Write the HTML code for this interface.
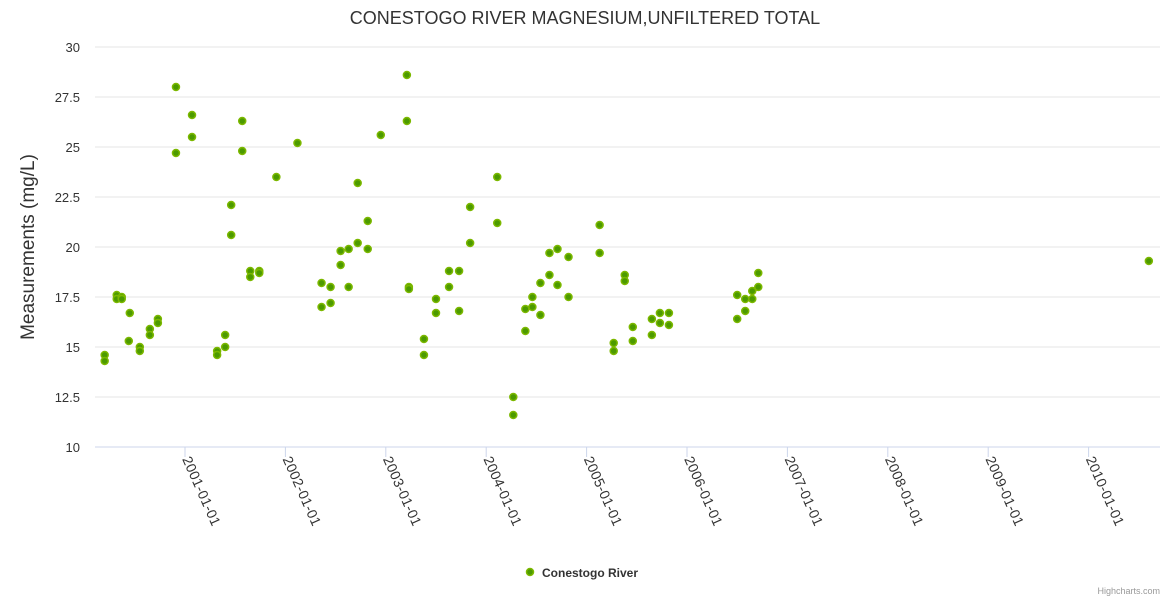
<!DOCTYPE html>
<html><head><meta charset="utf-8"><style>
body{margin:0;background:#fff;font-family:"Liberation Sans",sans-serif}
svg text{font-family:"Liberation Sans",sans-serif}
</style></head><body>
<svg width="1170" height="600">
<text x="585" y="24" text-anchor="middle" font-size="18" fill="#333">CONESTOGO RIVER MAGNESIUM,UNFILTERED TOTAL</text>
<text transform="translate(34,247) rotate(-90)" text-anchor="middle" font-size="19" fill="#333">Measurements (mg/L)</text>
<g id="grid"></g><g id="xaxis"></g><g id="pts"></g>
<g>
<circle cx="530" cy="572" r="3.5" fill="#4c9a00" stroke="#7cb800" stroke-width="1.5"/>
<text x="542" y="577" font-size="12" font-weight="bold" fill="#333">Conestogo River</text></g>
<text x="1160" y="594" text-anchor="end" font-size="9" fill="#999">Highcharts.com</text>
</svg>
<script>
const yTicks=[10,12.5,15,17.5,20,22.5,25,27.5,30];
const xTicks=[2001,2002,2003,2004,2005,2006,2007,2008,2009,2010];
const dates=[2000.20,2000.20,2000.32,2000.32,2000.37,2000.37,2000.45,2000.44,2000.55,2000.55,2000.65,2000.65,2000.73,2000.73,2000.91,2000.91,2001.07,2001.07,2001.32,2001.32,2001.40,2001.40,2001.46,2001.46,2001.57,2001.57,2001.65,2001.65,2001.74,2001.74,2001.91,2002.12,2002.36,2002.36,2002.45,2002.45,2002.55,2002.55,2002.63,2002.63,2002.72,2002.72,2002.82,2002.82,2002.95,2003.21,2003.21,2003.23,2003.23,2003.38,2003.38,2003.50,2003.50,2003.63,2003.63,2003.73,2003.73,2003.84,2003.84,2004.11,2004.11,2004.27,2004.27,2004.39,2004.39,2004.46,2004.46,2004.54,2004.54,2004.63,2004.63,2004.71,2004.71,2004.82,2004.82,2005.13,2005.13,2005.27,2005.27,2005.38,2005.38,2005.46,2005.46,2005.65,2005.65,2005.73,2005.73,2005.82,2005.82,2006.50,2006.50,2006.58,2006.58,2006.65,2006.65,2006.71,2006.71,2010.60];
const values=[14.6,14.3,17.6,17.4,17.5,17.4,16.7,15.3,15.0,14.8,15.9,15.6,16.4,16.2,28.0,24.7,26.6,25.5,14.8,14.6,15.6,15.0,22.1,20.6,26.3,24.8,18.8,18.5,18.8,18.7,23.5,25.2,18.2,17.0,18.0,17.2,19.8,19.1,19.9,18.0,23.2,20.2,21.3,19.9,25.6,28.6,26.3,18.0,17.9,15.4,14.6,17.4,16.7,18.8,18.0,18.8,16.8,22.0,20.2,23.5,21.2,12.5,11.6,16.9,15.8,17.5,17.0,18.2,16.6,19.7,18.6,19.9,18.1,19.5,17.5,21.1,19.7,15.2,14.8,18.6,18.3,16.0,15.3,16.4,15.6,16.7,16.2,16.7,16.1,17.6,16.4,17.4,16.8,17.8,17.4,18.7,18.0,19.3];
const NS='http://www.w3.org/2000/svg';
const X=d=>185+(d-2001)*100.4;
const Y=v=>447-(v-10)*20;
function mk(t,a,p){const e=document.createElementNS(NS,t);for(const k in a)e.setAttribute(k,a[k]);document.getElementById(p).appendChild(e);return e;}
yTicks.forEach(v=>{
 const l=mk('line',{x1:95,x2:1160,y1:Y(v),y2:Y(v),stroke:v===10?'#ccd6eb':'#e6e6e6'},'grid');
 
 
 const t=mk('text',{x:80,y:Y(v)+5,'text-anchor':'end','font-size':13,fill:'#333'},'grid');
 t.textContent=v;
 
 
});
xTicks.forEach(d=>{
 const x=X(d);
 const l=mk('line',{x1:x,x2:x,y1:447,y2:457,stroke:'#ccd6eb'},'xaxis');
 
 
 const t=mk('text',{transform:`translate(${x-3},${459}) rotate(66)`,'font-size':14,fill:'#333','letter-spacing':'0.3'},'xaxis');
 t.textContent=d+'-01-01';
 
 
});
dates.forEach((d,i)=>{
 const c=mk('circle',{cx:X(d),cy:Y(values[i]),r:3.5,fill:'#4c9a00',stroke:'#7cb800','stroke-width':1.5},'pts');
 
 
});
</script>
</body></html>
